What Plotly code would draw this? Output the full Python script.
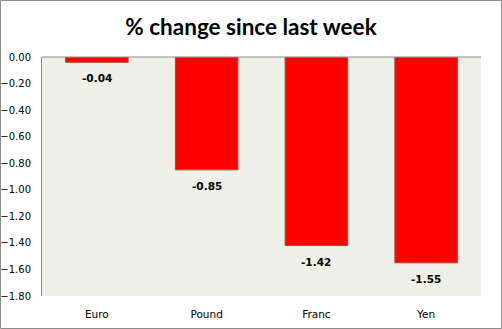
import plotly.graph_objects as go

currencies = ["Euro", "Pound", "Franc", "Yen"]
pct_change = [-0.04, -0.85, -1.42, -1.55]
tick_values = [0, -0.2, -0.4, -0.6, -0.8, -1.0, -1.2, -1.4, -1.6, -1.8]

W, H = 502, 329
L, R, T, B = 42, 21, 57, 33
pw, ph = W - L - R, H - T - B

label_font = dict(family="DejaVu Sans", size=10.5, color="#000000")
ytick_font = dict(family="DejaVu Sans", size=10, color="#000000")

fig = go.Figure(
    go.Bar(
        x=currencies,
        y=pct_change,
        marker=dict(color="#FF0000", line=dict(color="#A0522D", width=1)),
        width=0.57,
    )
)

# value labels beneath the end of each bar
for name, v in zip(currencies, pct_change):
    fig.add_annotation(
        x=name, y=v, text=f"<b>{v:.2f}</b>", showarrow=False,
        yanchor="middle", yshift=-16, font=label_font,
    )

fig.update_layout(
    width=W,
    height=H,
    margin=dict(l=L, r=R, t=T, b=B),
    paper_bgcolor="#FFFFFF",
    plot_bgcolor="#EFF0E8",
    showlegend=False,
    title=dict(
        text="<b>% change since last week</b>",
        x=0.5,
        xanchor="center",
        y=1 - 27 / H,
        yanchor="middle",
        font=dict(family="Lato", size=22.5, color="#000000"),
    ),
    xaxis=dict(
        showgrid=False,
        ticks="",
        tickfont=label_font,
        showline=False,
        automargin=False,
        ticklabelstandoff=10,
    ),
    yaxis=dict(
        range=[-1.8, 0],
        tickvals=tick_values,
        tickformat=".2f",
        showgrid=False,
        zeroline=False,
        showline=True,
        linecolor="#8C8C8C",
        linewidth=1,
        ticks="",
        tickfont=ytick_font,
        automargin=False,
        ticklabelstandoff=8,
    ),
    shapes=[
        # top edge of the plotting area
        dict(type="line", xref="paper", yref="paper", x0=0, x1=1, y0=1, y1=1,
             line=dict(color="#8C8C8C", width=1)),
        # outer frame around the whole chart
        dict(type="rect", xref="paper", yref="paper",
             x0=-(L - 0.5) / pw, x1=1 + (R - 0.5) / pw,
             y0=-(B - 0.5) / ph, y1=1 + (T - 0.5) / ph,
             line=dict(color="#8C8C8C", width=1)),
    ],
)

fig.write_html("out.html")
